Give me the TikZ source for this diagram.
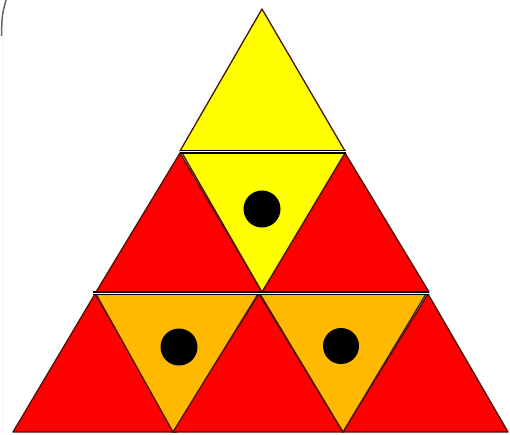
\documentclass[tikz,border=0pt]{standalone}
\begin{document}
\begin{tikzpicture}[x=1pt,y=-1pt,
  tri/.style={draw=edgec, line width=1.3pt, line join=round},
  dot/.style={fill=black},
  dbl/.style={draw=black, line width=4pt},
  dblw/.style={draw=white, line width=1.3pt}]
\definecolor{redc}{HTML}{FE0000}
\definecolor{yelc}{HTML}{FFFF00}
\definecolor{orac}{HTML}{FFB900}
\definecolor{edgec}{HTML}{4A1208}
\useasboundingbox (0,0) rectangle (510,434);
\fill[white] (0,0) rectangle (510,434);
% faint frame remnants
\draw[gray!80!black, line width=1.5pt] (1.5,36) .. controls (2,15) .. (6,0);
\draw[cyan!6!gray!12, line width=1pt] (3.5,36) -- (3.5,434);
% row 1
\coordinate (a) at (262,9);
\path[tri, fill=yelc] (a) -- (345,151) -- (180,151) -- cycle;
% row 2
\path[tri, fill=redc] (180,153) -- (262,292) -- (96,292) -- cycle;
\path[tri, fill=redc] (345,153) -- (429,292) -- (262,292) -- cycle;
\path[tri, fill=yelc] (182,153) -- (345,153) -- (262,292) -- cycle;
% row 3
\path[tri, fill=redc] (95,294) -- (177,432) -- (13,432) -- cycle;
\path[tri, fill=redc] (259,294) -- (343,432) -- (172,432) -- cycle;
\path[tri, fill=redc] (428,294) -- (508,432) -- (343,432) -- cycle;
\path[tri, fill=orac] (96,294) -- (258,294) -- (173,432) -- cycle;
\path[tri, fill=orac] (260,294) -- (426,294) -- (343,432) -- cycle;
% double lines
\coordinate (d1l) at (180,151.8);
\coordinate (d1r) at (346,151.8);
\draw[dbl] (d1l) -- (d1r);
\draw[dblw] (d1l) -- (d1r);
\coordinate (d2l) at (93,293.2);
\coordinate (d2r) at (429,293.2);
\draw[dbl] (d2l) -- (d2r);
\draw[dblw] (d2l) -- (d2r);
% dots
\node[dot, circle, minimum size=37pt, inner sep=0pt] (c1) at (262,209) {};
\node[dot, circle, minimum size=37pt, inner sep=0pt] (c2) at (179,347) {};
\node[dot, circle, minimum size=36pt, inner sep=0pt] (c3) at (341,346) {};
\end{tikzpicture}
\end{document}
